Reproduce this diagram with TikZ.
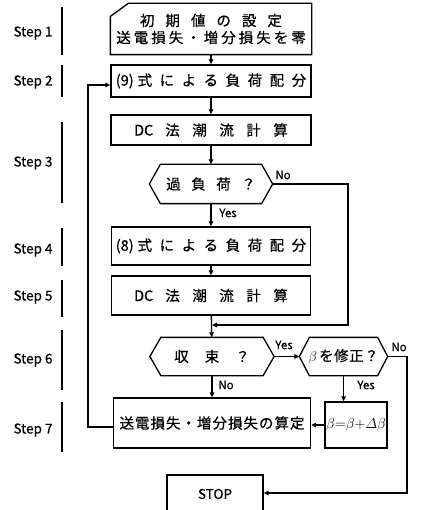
\documentclass[tikz,border=0pt]{standalone}
\usepackage{fontspec}
\setmainfont{Noto Sans CJK JP}[FakeBold=0.6]
\usetikzlibrary{arrows.meta}
\newcommand\jg[1]{\hspace{#1pt}}
\begin{document}
\begin{tikzpicture}[x=1pt,y=-1pt,line width=1.3pt,
  >={Triangle[length=5pt,width=4.5pt]},
  box/.style={minimum width=#1,inner sep=0pt,font=\fontsize{14.5}{16}\selectfont},
  steplabel/.style={font=\fontsize{13.5}{15}\selectfont,anchor=center},
  yn/.style={font=\fontsize{11.5}{12}\selectfont,inner sep=0pt},
  bar/.style={line width=1.8pt}]
\clip (0,0) rectangle (420,510);
\fill[white] (0,0) rectangle (420,510);

% step labels and bars
\node[steplabel] (l1) at (33,33) {Step 1};
\node[steplabel] (l2) at (33,82) {Step 2};
\node[steplabel] (l3) at (33,163) {Step 3};
\node[steplabel] (l4) at (33,250) {Step 4};
\node[steplabel] (l5) at (33,297) {Step 5};
\node[steplabel] (l6) at (33,360) {Step 6};
\node[steplabel] (l7) at (33,430) {Step 7};
\draw[bar] (62,7) -- (62,55);
\draw[bar] (62,65) -- (62,97);
\draw[bar] (62,122) -- (62,203);
\draw[bar] (62,228) -- (62,266);
\draw[bar] (62,280) -- (62,317);
\draw[bar] (62,330) -- (62,390);
\draw[bar] (62,402) -- (62,452);

% boxes
\node[box=200pt,minimum height=50pt,align=center] (s1) at (211,29)
  {初\jg{11}期\jg{11}値\jg{11}の\jg{11}設\jg{11}定\\[1pt]送\jg{3}電\jg{3}損\jg{3}失\jg{3}・\jg{3}増\jg{3}分\jg{3}損\jg{3}失\jg{3}を\jg{3}零};
\draw ([yshift=-13pt]s1.north west) -- ([xshift=18pt]s1.north west) -- (s1.north east)
  -- (s1.south east) -- (s1.south west) -- cycle;

\node[box=200pt,minimum height=32pt,draw] (s2) at (211,81)
  {(9)\jg{4}式\jg{7.5}に\jg{7.5}よ\jg{7.5}る\jg{7.5}負\jg{7.5}荷\jg{7.5}配\jg{7.5}分};
\node[box=200pt,minimum height=30pt,draw] (s3) at (211,130)
  {DC\jg{12}法\jg{12.5}潮\jg{12.5}流\jg{12.5}計\jg{12.5}算};

\node[box=122pt,minimum height=38pt] (d1) at (211,184)
  {過\jg{10.5}負\jg{10.5}荷\jg{10.5}？};
\draw (d1.west) -- ([xshift=11pt]d1.north west) -- ([xshift=-11pt]d1.north east)
  -- (d1.east) -- ([xshift=-11pt]d1.south east) -- ([xshift=11pt]d1.south west) -- cycle;

\node[box=199pt,minimum height=38pt,draw] (s4) at (211,246)
  {(8)\jg{4}式\jg{7.5}に\jg{7.5}よ\jg{7.5}る\jg{7.5}負\jg{7.5}荷\jg{7.5}配\jg{7.5}分};
\node[box=199pt,minimum height=39pt,draw] (s5) at (211,295.5)
  {DC\jg{12}法\jg{12.5}潮\jg{12.5}流\jg{12.5}計\jg{12.5}算};

\node[box=123pt,minimum height=37pt] (d2) at (212,356.5)
  {収\jg{16}束\jg{16}？};
\draw (d2.west) -- ([xshift=11pt]d2.north west) -- ([xshift=-11pt]d2.north east)
  -- (d2.east) -- ([xshift=-11pt]d2.south east) -- ([xshift=11pt]d2.south west) -- cycle;

\node[box=87pt,minimum height=37pt] (d3) at (343.5,356.5)
  {$\beta$\jg{2}を\jg{0.5}修\jg{0.5}正\jg{0.5}？};
\draw (d3.west) -- ([xshift=10pt]d3.north west) -- ([xshift=-10pt]d3.north east)
  -- (d3.east) -- ([xshift=-10pt]d3.south east) -- ([xshift=10pt]d3.south west) -- cycle;

\node[box=197pt,minimum height=50pt,draw,font=\fontsize{14.5}{16}\selectfont] (s7) at (212,423)
  {送\jg{1}電\jg{1}損\jg{1}失\jg{1}・\jg{1}増\jg{1}分\jg{1}損\jg{1}失\jg{1}の\jg{1}算\jg{1}定};
\node[box=62pt,minimum height=46pt,draw,font=\fontsize{14}{16}\selectfont] (b) at (356,425)
  {$\beta{=}\beta{+}\mathnormal{\Delta}\beta$};

\node[box=96pt,minimum height=50pt,draw] (stop) at (215,500) {};
\node[font=\fontsize{13.5}{15}\selectfont] (stoptext) at (215,494) {STOP};

% connectors
\draw[->] (s1) -- (s2);
\draw[->] (s2) -- (s3);
\draw[->] (s3) -- (d1);
\draw[->] (d1) -- (s4);
\draw[->] (s4) -- (s5);
\draw[->] (s5) -- (d2);
\draw[->] (d2) -- (s7.north -| d2.south);
\coordinate (j1) at (348,184);
\coordinate (j2) at (348,325);
\coordinate (j3) at (212,325);
\draw[->] (d1.east) -- (j1) -- (j2) -- (j3);
\draw[->] (d2.east) -- (d3.west);
\draw[->] (d3.south) -- (b.north -| d3.south);
\draw[->] (b.west) -- (s7.east |- b.west);
\coordinate (f1) at (88,427);
\coordinate (f2) at (88,85);
\draw[->] (s7.west |- f1) -- (f1) -- (f2) -- (s2.west |- f2);
\coordinate (n1) at (407,356.5);
\coordinate (n2) at (407,493);
\draw[->] (d3.east) -- (n1) -- (n2) -- (stop.east |- n2);

% labels
\node[yn] (no1) at (283,175) {No};
\node[yn] (yes1) at (228,213) {Yes};
\node[yn] (yes2) at (284,345) {Yes};
\node[yn] (no2) at (399,347) {No};
\node[yn] (yes3) at (366,385) {Yes};
\node[yn] (no3) at (226,385) {No};
\end{tikzpicture}
\end{document}
